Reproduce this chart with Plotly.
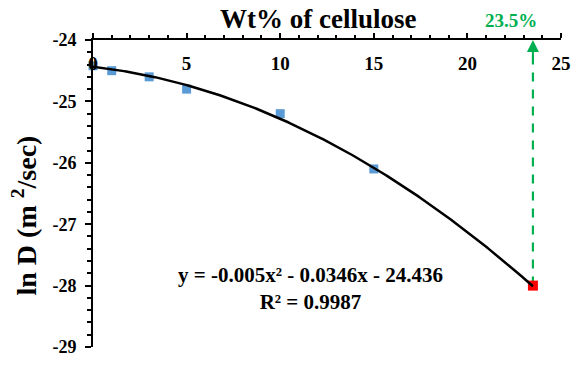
import numpy as np
import plotly.graph_objects as go

# Measured diffusion coefficients vs. cellulose loading
wt_pct = [0, 1, 3, 5, 10, 15]
ln_d = [-24.42, -24.5, -24.6, -24.8, -25.2, -26.1]

# Extrapolated point where the fit reaches ln D = -28
wt_limit = [23.5]
ln_d_limit = [-28.0]

# Quadratic trendline coefficients (a x^2 + b x + c) and fit quality
coef = [-0.005, -0.0346, -24.436]
r_squared = 0.9987

x_ticks = [0, 5, 10, 15, 20, 25]
x_tick_labels = ["0", "5", "10", "15", "20", "25"]
y_ticks = [-29, -28, -27, -26, -25, -24]
y_tick_labels = ["-29", "-28", "-27", "-26", "-25", "-24"]

FONT = "'Liberation Serif', 'Times New Roman', Times, serif"
GREEN = "#00B050"

xfit = np.linspace(0, wt_limit[0], 200)
yfit = np.polyval(coef, xfit)

fig = go.Figure()

fig.add_trace(go.Scatter(
    x=wt_pct, y=ln_d, mode="markers",
    marker=dict(symbol="square", size=9, color="#5B9BD5"),
    showlegend=False, cliponaxis=False,
))

# vertical guide from the extrapolated point up to the axis
fig.add_trace(go.Scatter(
    x=[wt_limit[0], wt_limit[0]], y=[ln_d_limit[0], y_ticks[-1] - 0.12],
    mode="lines", line=dict(color=GREEN, width=2.2, dash="9px,8px"),
    showlegend=False,
))

fig.add_trace(go.Scatter(
    x=wt_limit, y=ln_d_limit, mode="markers",
    marker=dict(symbol="square", size=10, color="#FF0000"),
    showlegend=False, cliponaxis=False,
))

fig.add_trace(go.Scatter(
    x=xfit, y=yfit, mode="lines",
    line=dict(color="black", width=2.5),
    showlegend=False,
))

eq = (f"y = {coef[0]}x² - {abs(coef[1])}x - {abs(coef[2])}"
      f"<br>R² = {r_squared}")

fig.update_layout(
    width=583, height=369,
    margin=dict(l=93, r=20, t=40, b=14),
    paper_bgcolor="white", plot_bgcolor="white",
    font=dict(family=FONT, color="black"),
    xaxis=dict(
        range=[0, 25], side="top", tickvals=x_ticks, ticktext=x_tick_labels,
        ticks="outside", ticklen=5, tickwidth=2, tickcolor="black",
        ticklabelposition="inside", ticklabeloverflow="allow",
        ticklabelstandoff=18,
        tickfont=dict(family=FONT, size=19, color="black", weight="bold"),
        showline=True, linecolor="black", linewidth=2,
        showgrid=False, zeroline=False,
        minor=dict(dtick=1, ticks="outside", ticklen=3, tickwidth=2, tickcolor="black"),
    ),
    yaxis=dict(
        range=[-29, -24], tickvals=y_ticks, ticktext=y_tick_labels,
        ticks="outside", ticklen=6, tickwidth=2, tickcolor="black",
        ticklabeloverflow="allow", ticklabelstandoff=5,
        tickfont=dict(family=FONT, size=18, color="black", weight="bold"),
        showline=True, linecolor="black", linewidth=2,
        showgrid=False, zeroline=False,
        minor=dict(dtick=0.2, ticks="outside", ticklen=4, tickwidth=2, tickcolor="black"),
    ),
    annotations=[
        dict(text="<b>Wt% of cellulose</b>", xref="paper", yref="paper",
             x=0.5, y=1, yshift=21, xshift=-9, xanchor="center", yanchor="middle",
             showarrow=False, font=dict(family=FONT, size=27, color="black")),
        dict(text="<b>ln D (m <sup>2</sup>/sec)</b>", xref="paper", yref="paper",
             x=0, y=0.5, xshift=-68, yshift=-22, xanchor="center", yanchor="middle",
             textangle=-90, showarrow=False,
             font=dict(family=FONT, size=28, color="black")),
        dict(text=f"<b>{eq}</b>", xref="x", yref="y",
             x=11.6, y=-28.05, xanchor="center", yanchor="middle",
             showarrow=False, font=dict(family=FONT, size=21, color="black")),
        dict(text=f"<b>{wt_limit[0]}%</b>", xref="x", yref="paper",
             x=wt_limit[0], y=1, yshift=20, xshift=-22, xanchor="center", yanchor="middle",
             showarrow=False, font=dict(family=FONT, size=19, color=GREEN)),
        dict(text="", xref="x", yref="y", axref="x", ayref="y",
             x=wt_limit[0], y=y_ticks[-1], ax=wt_limit[0], ay=y_ticks[-1] - 0.3,
             showarrow=True, arrowhead=2, arrowsize=1.2, arrowwidth=2,
             arrowcolor=GREEN),
    ],
)

fig.write_html("out.html")
